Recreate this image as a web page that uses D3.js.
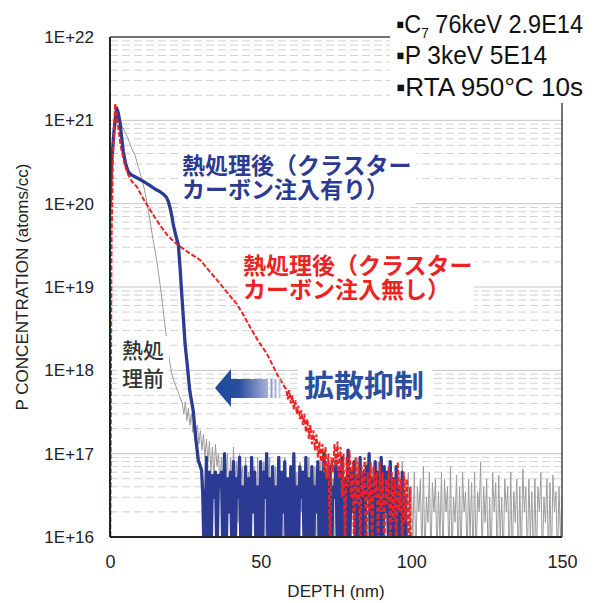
<!DOCTYPE html>
<html>
<head>
<meta charset="utf-8">
<script src="https://cdn.jsdelivr.net/npm/d3@7/dist/d3.min.js"></script>
<style>
  body { margin: 0; background: #fff; }
</style>
</head>
<body>
<div id="sims_chart"></div>
<script>
// axis ticks
var depthTicks = [0, 50, 100, 150];
var concTicks = [1e16, 1e17, 1e18, 1e19, 1e20, 1e21, 1e22];

// noisy tails are sampled every 0.5 nm and given in units of 1E16
var tailStep = 0.5;

// before anneal (gray)
var grayDepth = [0, 0.6, 1.5, 2.3, 3, 4, 5, 6, 7, 8.3, 9.5, 10.5, 11.4, 12.2, 13.2, 14.3, 15.5, 17, 18.3, 19.5, 20.5, 21.5, 22.7, 24];
var grayConc = [1e19, 2.5e20, 8e20, 1.3e21, 1.15e21, 8.5e20, 7.2e20, 6e20, 4.8e20, 3.8e20, 2.7e20, 2e20, 1.5e20, 1.05e20, 6.5e19, 3.7e19, 2.1e19, 8.5e18, 3.3e18, 1.5e18, 9e17, 7e17, 5.4e17, 4e17];
var grayTailStart = 24.5;
var grayTail = [
  30, 42, 25, 35, 22, 30, 18, 26, 15, 22, 13, 19,
  11, 17, 9, 15, 8, 14, 6, 12, 5, 13, 7, 10, 4, 9, 3, 8, 5, 10, 2, 9,
  4, 12, 3, 8, 1.5, 10, 5, 7, 0.5, 9, 3, 6, 0.5, 8, 4, 7, 1, 9, 0.5, 6,
  3, 8, 0.5, 7, 2, 9, 0.5, 5, 3, 7, 0.5, 8, 1.5, 6, 0.5, 9, 2, 5, 0.5, 7,
  3, 8, 0.5, 6, 0.5, 8, 2, 5, 0.5, 7, 3, 9, 0.5, 6, 1, 7, 0.5, 5, 2, 8,
  0.5, 6, 3, 7, 0.5, 8, 1.5, 5, 0.5, 9, 2, 6, 0.5, 7, 0.5, 5, 3, 8, 0.5, 6,
  2, 7, 0.5, 9, 1, 5, 0.5, 6, 3, 8, 0.5, 5, 0.5, 7, 2, 6, 0.5, 8, 1.5, 5,
  0.5, 7, 3, 6, 0.5, 8, 0.5, 5, 2, 7, 0.5, 6, 1, 8, 0.5, 5, 2, 6, 0.5, 4,
  1, 6, 0.5, 4, 2, 5, 0.5, 7, 0.5, 3, 1.5, 6, 0.5, 4.5, 2, 5, 0.5, 3.5, 1, 6,
  0.5, 5, 2, 4, 0.5, 7, 0.5, 3, 1.5, 5.5, 0.5, 4, 0.5, 6, 2, 3.5, 0.5, 5, 1, 4.5,
  0.5, 6, 0.5, 3.5, 2, 8, 0.5, 4, 1.5, 5, 0.5, 3, 0.5, 6, 2, 4.5, 0.5, 5.5, 1, 3,
  0.5, 5, 2, 4, 0.5, 6, 0.5, 3.5, 1.5, 5, 0.5, 4, 0.5, 6.5, 2, 4, 0.5, 5, 1, 3.5,
  0.5, 5, 0.5, 4, 2, 6, 0.5, 3, 1.5, 5, 0.5, 4.5, 0.5, 5.5, 2, 3.5, 0.5, 4, 1, 3
];

// after anneal, with cluster carbon (blue)
var blueDepth = [0, 0.55, 1.4, 2.2, 2.7, 3.3, 4.4, 5.2, 6.1, 7.2, 8.3, 10, 11.6, 13.3, 14.9, 16.5, 17.7, 18.7, 19.4, 20, 20.5, 21, 21.8, 22.7, 23.3, 23.8, 24.4, 24.9, 25.5, 26.5, 27.6, 28.4, 29.3, 30, 30.4, 30.8, 31.1];
var blueConc = [9.5e19, 3.2e20, 7.9e20, 1.4e21, 1.25e21, 9.5e20, 4.2e20, 3e20, 2.4e20, 2.2e20, 2.1e20, 1.95e20, 1.8e20, 1.65e20, 1.5e20, 1.4e20, 1.3e20, 1.2e20, 1.05e20, 8.7e19, 7.2e19, 5.6e19, 4.2e19, 3.2e19, 1.6e19, 8.3e18, 4e18, 2.1e18, 1.3e18, 5.6e17, 3.3e17, 1.6e17, 8.3e16, 7e16, 6.3e16, 3.2e16, 1e16];
var blueTailStart = 31.5;
var blueTail = [
  0.5, 9, 0.5, 6, 0.5, 5.5, 3, 6, 0.5, 5.5, 4, 6, 0.5, 10, 0.5, 5, 2, 6, 0.5, 8,
  0.5, 5, 3, 9, 0.5, 4, 0.5, 7, 0.5, 5, 0.5, 9, 2, 6, 0.5, 4, 0.5, 8, 0.5, 6,
  3, 10, 0.5, 5, 0.5, 7, 0.5, 4, 0.5, 9, 0.5, 6, 2, 8, 0.5, 5, 0.5, 7, 0.5, 10,
  0.5, 4, 0.5, 7, 3, 6, 0.5, 9, 0.5, 5, 0.5, 7, 0.5, 4, 2, 8, 0.5, 6, 0.5, 10,
  0.5, 5, 0.5, 7, 0.5, 4, 3, 8, 0.5, 6, 0.5, 9, 0.5, 5, 0.5, 11, 0.5, 6, 2, 8,
  0.5, 5, 0.5, 9, 0.5, 6, 0.5, 7, 3, 10, 0.5, 5, 0.5, 8, 0.5, 6, 0.5, 9, 0.5, 7,
  2, 6, 0.5, 8, 0.5, 5, 0.5, 7, 0.5, 4, 0.5, 6, 0.5, 3, 0.5, 0.5
];

// after anneal, no cluster carbon (red)
var redDepth = [0, 0.5, 1, 1.7, 2.3, 2.8, 3.5, 4.4, 5.2, 6.1, 7.5, 8.9, 11, 13.8, 16.6, 19, 22, 26, 30, 33, 36.5, 39, 42, 44, 46.5, 49, 52, 55.5, 58];
var redConc = [1e15, 3.2e19, 4e20, 1.6e21, 1.1e21, 7.9e20, 5e20, 3.5e20, 2.7e20, 2.2e20, 1.8e20, 1.6e20, 1.15e20, 7.9e19, 5.5e19, 4.2e19, 3.3e19, 2.6e19, 2.1e19, 1.55e19, 1.1e19, 8.5e18, 6.3e18, 4.8e18, 3.3e18, 2.3e18, 1.6e18, 8.9e17, 6.3e17];
var redTailStart = 58.5;
var redTail = [
  60, 45, 58, 40, 50, 34, 44, 30, 38, 26, 33, 22, 30, 18, 26, 15, 22, 13, 19, 11,
  17, 9, 14, 8, 13, 6, 12, 5, 10, 0.5, 9, 6, 13, 7, 14, 5, 12, 3, 10, 0.5,
  9, 4, 11, 3, 8, 0.5, 9, 2.5, 8, 0.5, 7, 3, 9, 0.5, 6, 2, 8, 0.5, 7, 3,
  6, 0.5, 8, 2, 6, 0.5, 5, 2.5, 7, 0.5, 6, 1.5, 5, 0.5, 8, 2, 5, 0.5, 6, 1.5,
  5, 0.5, 4, 0.5
];

// set the dimensions and margins of the graph
var margin = {top: 37, right: 38, bottom: 66, left: 110},
  width = 600 - margin.left - margin.right,
  height = 603 - margin.top - margin.bottom;

var svgRoot = d3.select("#sims_chart")
  .append("svg")
    .attr("width", 600)
    .attr("height", 603);

var svg = svgRoot.append("g")
    .attr("transform", "translate(" + margin.left + "," + margin.top + ")");

var x = d3.scaleLinear().domain([0, 150]).range([0, width]);
var y = d3.scaleLog().domain([1e16, 1e22]).range([height, 0]);

function buildSeries(depths, concs, tailStart, tail) {
  var pts = depths.map(function(d, i) { return {depth: d, conc: concs[i]}; });
  tail.forEach(function(v, i) {
    pts.push({depth: tailStart + i * tailStep, conc: v * 1e16});
  });
  return pts;
}

var graySeries = buildSeries(grayDepth, grayConc, grayTailStart, grayTail);
var blueSeries = buildSeries(blueDepth, blueConc, blueTailStart, blueTail);
var redSeries = buildSeries(redDepth, redConc, redTailStart, redTail);

// gridlines: solid at decades, dashed in between
svg.append("g")
  .selectAll("line")
  .data(y.ticks().filter(function(v) { return v > 1e16 && v < 1e22; }))
  .enter()
  .append("line")
    .attr("x1", 0)
    .attr("x2", width)
    .attr("y1", function(d) { return y(d); })
    .attr("y2", function(d) { return y(d); })
    .attr("stroke", function(d) { return concTicks.indexOf(d) >= 0 ? "#c4c4c4" : "#d2d2d2"; })
    .attr("stroke-width", 1)
    .attr("stroke-dasharray", function(d) { return concTicks.indexOf(d) >= 0 ? null : "8,4"; });

// white boxes behind annotations
var boxes = [
  [178, 150, 238, 54],
  [238, 250, 236, 56],
  [117, 336, 52, 58],
  [298, 366, 134, 40]
];
svgRoot.append("g")
  .selectAll("rect")
  .data(boxes)
  .enter()
  .append("rect")
    .attr("x", function(d) { return d[0]; })
    .attr("y", function(d) { return d[1]; })
    .attr("width", function(d) { return d[2]; })
    .attr("height", function(d) { return d[3]; })
    .attr("fill", "#fff");

// curves
svg.append("clipPath").attr("id", "plotclip")
  .append("rect").attr("x", 0).attr("y", 0).attr("width", width).attr("height", height);

var line = d3.line()
  .x(function(d) { return x(d.depth); })
  .y(function(d) { return y(d.conc); });

var curves = svg.append("g").attr("clip-path", "url(#plotclip)");

curves.append("path")
  .datum(graySeries)
  .attr("d", line)
  .attr("fill", "none")
  .attr("stroke", "#9c9c9c")
  .attr("stroke-width", 1);

curves.append("path")
  .datum(blueSeries)
  .attr("d", line)
  .attr("fill", "none")
  .attr("stroke", "#2b3a92")
  .attr("stroke-width", 3.3)
  .attr("stroke-linejoin", "round");

curves.append("path")
  .datum(redSeries)
  .attr("d", line)
  .attr("fill", "none")
  .attr("stroke", "#ec2322")
  .attr("stroke-width", 2)
  .attr("stroke-dasharray", "5,2");

// frame
svg.append("line").attr("x1", 0).attr("x2", 0).attr("y1", 0).attr("y2", height)
  .attr("stroke", "#222").attr("stroke-width", 2);
svg.append("line").attr("x1", 0).attr("x2", width).attr("y1", height).attr("y2", height)
  .attr("stroke", "#222").attr("stroke-width", 2);
svg.append("line").attr("x1", width).attr("x2", width).attr("y1", 0).attr("y2", height)
  .attr("stroke", "#444").attr("stroke-width", 1.5);
svg.append("line").attr("x1", 0).attr("x2", width).attr("y1", 0).attr("y2", 0)
  .attr("stroke", "#444").attr("stroke-width", 1.5);

// axes
var yAxis = svg.append("g")
  .call(d3.axisLeft(y).tickValues(concTicks).tickSize(0).tickPadding(16)
    .tickFormat(function(d) { return "1E+" + Math.round(Math.log10(d)); }));
yAxis.select(".domain").remove();
yAxis.selectAll("text")
  .style("font-family", "'Liberation Sans', Arial, sans-serif")
  .style("font-size", "17px")
  .attr("fill", "#222");

var xAxis = svg.append("g")
  .attr("transform", "translate(0," + height + ")")
  .call(d3.axisBottom(x).tickValues(depthTicks).tickSize(0).tickPadding(18));
xAxis.select(".domain").remove();
xAxis.selectAll("text")
  .style("font-family", "'Liberation Sans', Arial, sans-serif")
  .style("font-size", "18px")
  .attr("fill", "#222");

svgRoot.append("text")
  .attr("x", 336)
  .attr("y", 597)
  .attr("text-anchor", "middle")
  .style("font-family", "'Liberation Sans', Arial, sans-serif")
  .style("font-size", "17px")
  .attr("fill", "#222")
  .text("DEPTH (nm)");

svgRoot.append("text")
  .attr("transform", "translate(28," + (margin.top + height / 2) + ") rotate(-90)")
  .attr("text-anchor", "middle")
  .style("font-family", "'Liberation Sans', Arial, sans-serif")
  .style("font-size", "17px")
  .attr("fill", "#222")
  .text("P CONCENTRATION (atoms/cc)");

// condition box, top right
svgRoot.append("rect")
  .attr("x", 390).attr("y", 0).attr("width", 210).attr("height", 103)
  .attr("fill", "#fff");

var condFont = "'Liberation Sans', Arial, sans-serif";
var c1 = svgRoot.append("text")
  .attr("x", 396).attr("y", 33)
  .attr("textLength", 187).attr("lengthAdjust", "spacingAndGlyphs")
  .style("font-family", condFont).style("font-size", "26px").attr("fill", "#111");
c1.append("tspan").text("▪C");
c1.append("tspan").attr("dy", 5).style("font-size", "15px").text("7");
c1.append("tspan").attr("dy", -5).text(" 76keV 2.9E14");

svgRoot.append("text")
  .attr("x", 396).attr("y", 64)
  .attr("textLength", 151).attr("lengthAdjust", "spacingAndGlyphs")
  .style("font-family", condFont).style("font-size", "26px").attr("fill", "#111")
  .text("▪P 3keV 5E14");

svgRoot.append("text")
  .attr("x", 396).attr("y", 96)
  .attr("textLength", 187).attr("lengthAdjust", "spacingAndGlyphs")
  .style("font-family", condFont).style("font-size", "26px").attr("fill", "#111")
  .text("▪RTA 950°C 10s");

// Japanese annotations
var jpFont = "'Noto Sans CJK JP', sans-serif";
function jpText(tx, ty, size, weight, color, str) {
  svgRoot.append("text")
    .attr("x", tx).attr("y", ty)
    .style("font-family", jpFont)
    .style("font-size", size + "px")
    .style("font-weight", weight)
    .attr("fill", color)
    .text(str);
}
jpText(182, 174, 23, 700, "#2b3a92", "熱処理後（クラスター");
jpText(182, 198, 23, 700, "#2b3a92", "カーボン注入有り）");
jpText(243, 274, 23, 700, "#ec2322", "熱処理後（クラスター");
jpText(243, 298, 23, 700, "#ec2322", "カーボン注入無し）");
jpText(122, 358, 21, 500, "#333", "熱処");
jpText(122, 386, 21, 500, "#333", "理前");
jpText(304, 396, 30, 700, "#2a4f9f", "拡散抑制");

// arrow pointing left
var defs = svgRoot.append("defs");
var grad = defs.append("linearGradient").attr("id", "arrowGrad")
  .attr("x1", "0%").attr("x2", "100%").attr("y1", "0%").attr("y2", "0%");
grad.append("stop").attr("offset", "0%").attr("stop-color", "#1c4a9c");
grad.append("stop").attr("offset", "45%").attr("stop-color", "#2a4f9f");
grad.append("stop").attr("offset", "100%").attr("stop-color", "#a9b1d8");

svgRoot.append("path")
  .attr("d", "M215,388 L231,369 L231,379 L268,379 L268,398 L231,398 L231,407 Z")
  .attr("fill", "url(#arrowGrad)");
[270.5, 274.5, 278.5].forEach(function(bx, i) {
  svgRoot.append("rect")
    .attr("x", bx).attr("y", 379).attr("width", 2).attr("height", 19)
    .attr("fill", ["#8f99cc", "#a7aed8", "#c0c5e4"][i]);
});
</script>
</body>
</html>
